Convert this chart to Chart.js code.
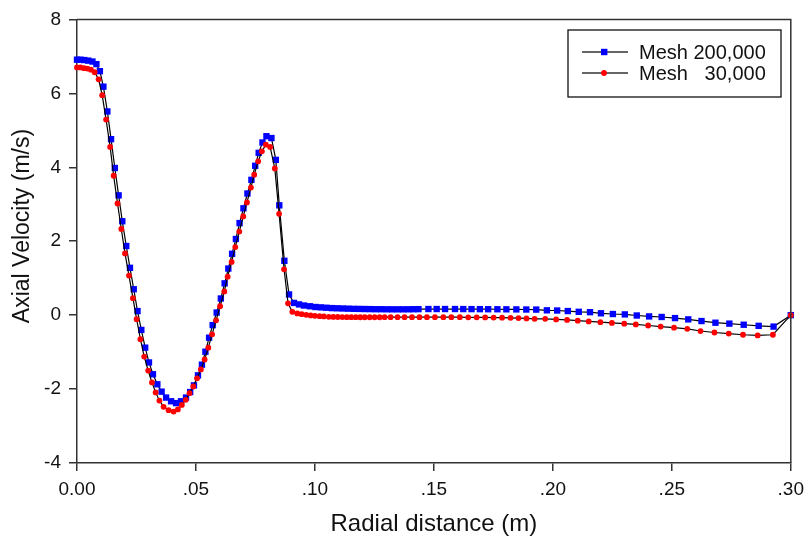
<!DOCTYPE html>
<html><head><meta charset="utf-8">
<script src="https://cdn.jsdelivr.net/npm/chart.js@4.4.1/dist/chart.umd.min.js"></script>
<style>html,body{margin:0;padding:0;background:#fff;overflow:hidden}
#wrap{position:absolute;left:0;top:0;width:811px;height:543px}
canvas{display:block}
</style></head><body><div id="wrap"><canvas id="c" width="811" height="543"></canvas></div>
<script>
const seriesNames = ["Mesh 200,000", "Mesh   30,000"];
const xTickLabels = ["0.00", ".05", ".10", ".15", ".20", ".25", ".30"];
const yTickLabels = ["-4", "-2", "0", "2", "4", "6", "8"];
const xTitle = "Radial distance (m)";
const yTitle = "Axial Velocity (m/s)";

// Mesh 200,000
const blueX = [0.0000,0.00146,0.00305,0.00473,0.00649,0.00816,0.00962,0.01109,0.01276,0.01431,
0.01590,0.01749,0.01904,0.02071,0.02226,0.02385,0.02544,0.02703,0.02866,0.03025,
0.03192,0.03377,0.03556,0.03745,0.03954,0.04163,0.04372,0.04582,0.04757,0.04916,
0.05084,0.05251,0.05397,0.05552,0.05703,0.05870,0.06046,0.06205,0.06360,0.06519,
0.06678,0.06833,0.06996,0.07163,0.07331,0.07490,0.07636,0.07795,0.07962,0.08172,
0.08356,0.08502,0.08715,0.08912,0.09121,0.09331,0.09540,0.09791,0.10021,0.10251,
0.10481,0.10711,0.10941,0.11172,0.11402,0.11632,0.11862,0.12092,0.12322,0.12552,
0.12782,0.13013,0.13243,0.13473,0.13703,0.13933,0.14142,0.14351,0.14770,0.15117,
0.15469,0.15887,0.16234,0.16582,0.16933,0.17280,0.17669,0.18046,0.18464,0.18883,
0.19301,0.19749,0.20180,0.20628,0.21088,0.21561,0.22021,0.22523,0.23025,0.23527,
0.24046,0.24573,0.25134,0.25690,0.26247,0.26833,0.27418,0.28021,0.28649,0.29276,0.30000];
const blueY = [6.91,6.91,6.90,6.885,6.86,6.79,6.60,6.18,5.51,4.76,
3.98,3.24,2.54,1.87,1.28,0.70,0.11,-0.40,-0.88,-1.28,
-1.60,-1.87,-2.07,-2.23,-2.33,-2.38,-2.33,-2.23,-2.08,-1.90,
-1.63,-1.34,-0.99,-0.61,-0.27,0.07,0.45,0.86,1.26,1.66,
2.06,2.49,2.89,3.29,3.66,4.04,4.39,4.67,4.84,4.79,
4.20,2.97,1.47,0.56,0.33,0.29,0.26,0.24,0.22,0.21,
0.20,0.19,0.185,0.18,0.175,0.17,0.168,0.165,0.163,0.16,
0.16,0.158,0.157,0.157,0.157,0.158,0.16,0.162,0.165,0.165,
0.165,0.165,0.164,0.163,0.162,0.16,0.159,0.157,0.155,0.152,
0.15,0.13,0.125,0.11,0.09,0.08,0.05,0.03,0.02,-0.01,
-0.035,-0.05,-0.08,-0.115,-0.16,-0.205,-0.23,-0.26,-0.29,-0.31,0.0];

// Mesh 30,000
const redX = [0.0000,0.00146,0.00293,0.00439,0.00586,0.00741,0.00908,0.01059,0.01222,0.01393,
0.01540,0.01703,0.01862,0.02017,0.02184,0.02351,0.02506,0.02665,0.02824,0.02992,
0.03151,0.03305,0.03464,0.03640,0.03849,0.04059,0.04238,0.04406,0.04569,0.04728,
0.04887,0.05046,0.05205,0.05364,0.05519,0.05678,0.05845,0.06013,0.06192,0.06331,
0.06498,0.06653,0.06820,0.06987,0.07142,0.07310,0.07448,0.07615,0.07770,0.07937,
0.08117,0.08314,0.08494,0.08703,0.08870,0.09050,0.09259,0.09444,0.09636,0.09820,
0.10000,0.10197,0.10377,0.10586,0.10774,0.10962,0.11151,0.11339,0.11527,0.11715,
0.11904,0.12092,0.12301,0.12510,0.12720,0.12929,0.13180,0.13473,0.13766,0.14079,
0.14393,0.14707,0.15042,0.15397,0.15732,0.16088,0.16444,0.16799,0.17155,0.17510,
0.17866,0.18222,0.18556,0.18891,0.19234,0.19678,0.20138,0.20598,0.21046,0.21506,
0.21996,0.22481,0.23000,0.23485,0.24004,0.24531,0.25092,0.25649,0.26205,0.26791,
0.27393,0.27992,0.28607,0.29247,0.30000];
const redY = [6.70,6.70,6.68,6.67,6.64,6.57,6.38,5.95,5.29,4.55,
3.77,3.02,2.33,1.67,1.07,0.46,-0.11,-0.65,-1.12,-1.50,
-1.82,-2.09,-2.31,-2.48,-2.57,-2.61,-2.55,-2.43,-2.29,-2.11,
-1.93,-1.71,-1.47,-1.20,-0.88,-0.52,-0.14,0.24,0.64,1.04,
1.44,1.84,2.26,2.67,3.05,3.45,3.80,4.16,4.43,4.61,
4.55,3.97,2.74,1.24,0.32,0.09,0.045,0.027,0.008,-0.008,
-0.02,-0.027,-0.035,-0.045,-0.048,-0.05,-0.052,-0.054,-0.055,-0.056,
-0.057,-0.057,-0.057,-0.057,-0.057,-0.056,-0.056,-0.055,-0.055,-0.055,
-0.055,-0.055,-0.055,-0.055,-0.055,-0.056,-0.058,-0.06,-0.062,-0.065,
-0.068,-0.072,-0.08,-0.09,-0.10,-0.10,-0.115,-0.13,-0.15,-0.17,
-0.19,-0.21,-0.23,-0.25,-0.28,-0.31,-0.34,-0.37,-0.43,-0.47,
-0.50,-0.53,-0.55,-0.53,0.0];

const FONT = "'Liberation Sans', Arial, Helvetica, sans-serif";
const AXIS_COLOR = '#333';

const toPts = (xs, ys) => xs.map((x, i) => ({x: x, y: ys[i]}));

const framePlugin = {
  id: 'frame',
  afterDraw(chart) {
    const {ctx, chartArea: a} = chart;
    ctx.save();
    ctx.strokeStyle = AXIS_COLOR;
    ctx.lineWidth = 1.5;
    ctx.beginPath();
    ctx.moveTo(a.left, a.top);
    ctx.lineTo(a.right, a.top);
    ctx.lineTo(a.right, a.bottom);
    ctx.stroke();
    // y-axis title
    ctx.save();
    ctx.translate(23, 226);
    ctx.rotate(-Math.PI / 2);
    ctx.fillStyle = '#111';
    ctx.font = '23px ' + FONT;
    ctx.textAlign = 'center';
    ctx.textBaseline = 'middle';
    ctx.fillText(yTitle, 0, 0);
    ctx.restore();
    ctx.restore();
  }
};

const legendPlugin = {
  id: 'boxLegend',
  afterDraw(chart) {
    const ctx = chart.ctx;
    const bx = 568, by = 30, bw = 213, bh = 67;
    ctx.save();
    ctx.fillStyle = '#fff';
    ctx.fillRect(bx, by, bw, bh);
    ctx.strokeStyle = '#111';
    ctx.lineWidth = 1.3;
    ctx.strokeRect(bx, by, bw, bh);
    const rows = [52, 73];
    const order = [1, 0];
    ctx.font = '20px ' + FONT;
    ctx.textBaseline = 'middle';
    ctx.textAlign = 'left';
    order.forEach((di, r) => {
      const ds = chart.data.datasets[di];
      const y = rows[r];
      ctx.strokeStyle = '#333';
      ctx.lineWidth = 1.3;
      ctx.beginPath(); ctx.moveTo(582, y); ctx.lineTo(628, y); ctx.stroke();
      ctx.fillStyle = ds.pointBackgroundColor;
      if (ds.pointStyle === 'rect') {
        ctx.fillRect(601, y - 3.2, 6.4, 6.4);
      } else {
        ctx.beginPath(); ctx.arc(604, y, 2.9, 0, Math.PI * 2); ctx.fill();
      }
      ctx.fillStyle = '#111';
      ctx.fillText(ds.label, 639, y + 1);
    });
    ctx.restore();
  }
};

new Chart(document.getElementById('c'), {
  type: 'scatter',
  data: {
    datasets: [
      {
        label: seriesNames[1],
        data: toPts(redX, redY),
        showLine: true,
        borderColor: '#000',
        borderWidth: 1.2,
        pointStyle: 'circle',
        pointRadius: 2.9,
        pointBackgroundColor: '#ff0000',
        pointBorderColor: '#ff0000',
        pointBorderWidth: 0,
        clip: false
      },
      {
        label: seriesNames[0],
        data: toPts(blueX, blueY),
        showLine: true,
        borderColor: '#000',
        borderWidth: 1.2,
        pointStyle: 'rect',
        pointRadius: 4.5,
        pointBackgroundColor: '#0000ff',
        pointBorderColor: '#0000ff',
        pointBorderWidth: 0,
        clip: false
      }
    ]
  },
  options: {
    responsive: false,
    animation: false,
    devicePixelRatio: 1,
    layout: {padding: {left: 0, right: 17, top: 14, bottom: 0}},
    plugins: {legend: {display: false}, tooltip: {enabled: false}},
    elements: {line: {tension: 0}},
    scales: {
      x: {
        type: 'linear', min: 0, max: 0.3,
        afterFit: s => { s.height = 80; },
        ticks: {
          stepSize: 0.05, color: '#111', padding: 7,
          font: {family: FONT, size: 19},
          callback: (v, i) => xTickLabels[i]
        },
        grid: {display: true, drawOnChartArea: false, drawTicks: true, tickLength: 8, color: AXIS_COLOR, lineWidth: 1.5},
        border: {display: true, color: AXIS_COLOR, width: 1.5},
        title: {display: true, text: xTitle, color: '#111', font: {family: FONT, size: 24}, padding: {top: 0, bottom: 4}}
      },
      y: {
        type: 'linear', min: -4, max: 8,
        afterFit: s => { s.width = 77; },
        ticks: {
          stepSize: 2, color: '#111', padding: 8,
          font: {family: FONT, size: 19},
          callback: (v, i) => yTickLabels[i]
        },
        grid: {display: true, drawOnChartArea: false, drawTicks: true, tickLength: 8, color: AXIS_COLOR, lineWidth: 1.5},
        border: {display: true, color: AXIS_COLOR, width: 1.5},
        title: {display: false}
      }
    }
  },
  plugins: [framePlugin, legendPlugin]
});
</script>
</body></html>
